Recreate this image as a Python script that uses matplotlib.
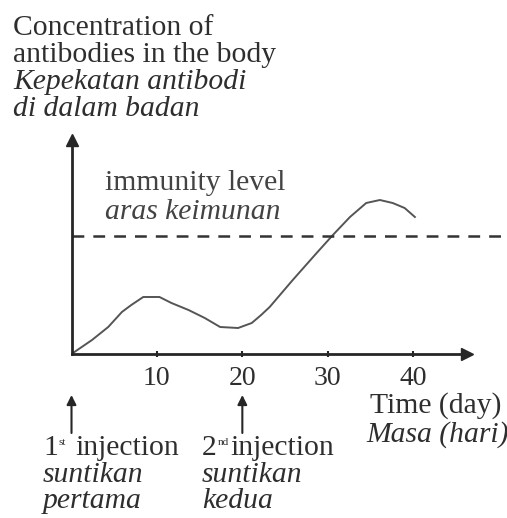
import matplotlib
matplotlib.use("Agg")
import matplotlib.pyplot as plt

# datos (dias, concentracion en unidades arbitrarias)
days = [0.0, 2.4, 4.3, 5.9, 7.0, 8.4, 10.3, 11.7, 13.7, 15.6, 17.4, 19.5,
        21.1, 22.2, 23.2, 25.9, 28.7, 30.6, 32.6, 34.5, 36.1, 37.6, 39.0, 40.2]
conc = [0, 14, 27, 42, 49, 57, 57, 51, 44, 36, 27, 26,
        31, 39, 47, 74, 101, 119, 137, 151, 154, 151, 146, 137]
immunity = 118
x_ticks = [10, 20, 30, 40]
injections = [0, 20]
injection_labels = [("1", "st", "injection", "suntikan", "pertama"),
                    ("2", "nd", "injection", "suntikan", "kedua")]

plt.rcParams["font.family"] = "Liberation Serif"
plt.rcParams["lines.scale_dashes"] = False

W, H = 507, 518
fig = plt.figure(figsize=(W / 100, H / 100), dpi=100)
ax = fig.add_axes([71.5 / W, (H - 354) / H, (467 - 71.5) / W, (354 - 140) / H])
ax.set_xlim(0, 46.3)
ax.set_ylim(0, 214)

ink = "#262626"
txt = "#2e2e2e"
fs = 21.3

# ejes con flechas
for s in ["top", "right"]:
    ax.spines[s].set_visible(False)
for s in ["left", "bottom"]:
    ax.spines[s].set_linewidth(2)
    ax.spines[s].set_color(ink)
ax.plot(1, 0, ">", transform=ax.transAxes, clip_on=False, color=ink, ms=8)
ax.plot(0, 1, "^", transform=ax.transAxes, clip_on=False, color=ink, ms=8)

ax.set_xticks(x_ticks)
ax.set_xticklabels([str(t) for t in x_ticks], fontsize=20, color=txt)
ax.tick_params(axis="x", direction="inout", length=5, width=1.5, color=ink, pad=6)
ax.set_yticks([])

# curva y nivel de inmunidad
ax.plot(days, conc, color="#555555", lw=1.4)
ax.axhline(immunity, xmin=0, xmax=(507 - 71.5) / (467 - 71.5), clip_on=False,
           color="#333333", lw=1.8, dashes=(8.5, 6.5))

def ftext(x, y, s, size=fs, **kw):
    fig.text(x / W, 1 - y / H, s, fontsize=size, color=txt, va="baseline", **kw)

ftext(13, 35, "Concentration of")
ftext(13, 62, "antibodies in the body")
ftext(13, 89, "Kepekatan antibodi", style="italic")
ftext(13, 116, "di dalam badan", style="italic")

ftext(105, 190, "immunity level", alpha=0.9)
ftext(105, 219, "aras keimunan", style="italic", alpha=0.9)

ftext(370, 413, "Time (day)")
ftext(366, 442, "Masa (hari)", style="italic")

# flechas de inyeccion
for d, lab, x0, x_sup, x_word in zip(injections, injection_labels,
                                     [43, 202], [58.5, 217.5], [75, 230]):
    ax.annotate("", xy=(d, -41), xytext=(d, -79),
                xycoords="data", annotation_clip=False,
                arrowprops=dict(arrowstyle="-|>", lw=1.5, color=ink,
                                mutation_scale=14, shrinkA=0, shrinkB=0))
    ftext(x0, 455, lab[0])
    ftext(x_sup, 445, lab[1], size=8)
    ftext(x_word, 455, lab[2])
    ftext(x0, 482, lab[3], style="italic")
    ftext(x0, 508, lab[4], style="italic")

fig.savefig("out.png", dpi=100)
